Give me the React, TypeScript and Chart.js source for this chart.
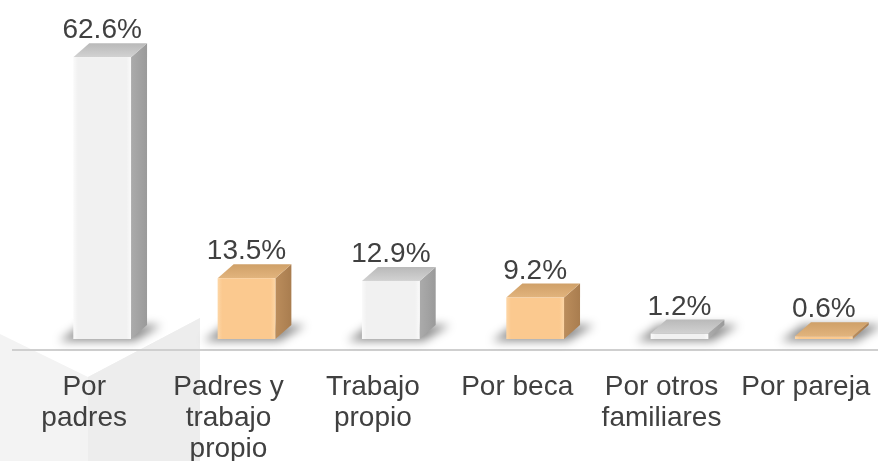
import React, { useEffect, useRef } from "react";
import { Chart, registerables } from "chart.js";

Chart.register(...registerables);

const categories: string[][] = [
  ["Por", "padres"],
  ["Padres y", "trabajo", "propio"],
  ["Trabajo", "propio"],
  ["Por beca"],
  ["Por otros", "familiares"],
  ["Por pareja"],
];
const values: number[] = [62.6, 13.5, 12.9, 9.2, 1.2, 0.6];
const valueLabels: string[] = ["62.6%", "13.5%", "12.9%", "9.2%", "1.2%", "0.6%"];

const FONT = "'Liberation Sans', Arial, Helvetica, sans-serif";
const TEXT = "#404040";

type Pal = { front: string; frontEdge: string; top1: string; top2: string; side1: string; side2: string };
const grayPal: Pal = {
  front: "#f1f1f1",
  frontEdge: "#fafafa",
  top1: "#d2d2d2",
  top2: "#b9b9b9",
  side1: "#ababab",
  side2: "#9a9a9a",
};
const orangePal: Pal = {
  front: "#fbc98f",
  frontEdge: "#fdd6a6",
  top1: "#e2b47d",
  top2: "#cfa068",
  side1: "#bb8d5c",
  side2: "#a97d4f",
};

const SHIFT = 18;
const DX = 16;
const DY = 14;

const bar3d = {
  id: "bar3d",
  beforeDraw(chart: any) {
    const ctx = chart.ctx;
    ctx.save();
    // faint background decoration at lower left
    ctx.fillStyle = "#f3f3f3";
    ctx.beginPath();
    ctx.moveTo(0, 334);
    ctx.lineTo(88, 377);
    ctx.lineTo(200, 318);
    ctx.lineTo(200, 461);
    ctx.lineTo(0, 461);
    ctx.closePath();
    ctx.fill();
    ctx.fillStyle = "#ededed";
    ctx.beginPath();
    ctx.moveTo(88, 377);
    ctx.lineTo(200, 318);
    ctx.lineTo(200, 461);
    ctx.lineTo(88, 461);
    ctx.closePath();
    ctx.fill();
    ctx.restore();
  },
  afterDatasetsDraw(chart: any) {
    const ctx = chart.ctx;
    const meta = chart.getDatasetMeta(0);
    const area = chart.chartArea;
    const yBase = chart.scales.y.getPixelForValue(0);
    ctx.save();
    // floor line
    ctx.strokeStyle = "#cfcfcf";
    ctx.lineWidth = 2;
    ctx.beginPath();
    ctx.moveTo(area.left, yBase + 11);
    ctx.lineTo(area.right, yBase + 11);
    ctx.stroke();

    meta.data.forEach((el: any, i: number) => {
      const pal = i % 2 === 0 ? grayPal : orangePal;
      const w = el.width;
      const cx = el.x + SHIFT;
      const L = cx - w / 2;
      const R = cx + w / 2;
      const T = el.y;
      const B = el.base;

      // shadow
      ctx.save();
      ctx.filter = "blur(5px)";
      ctx.fillStyle = "rgba(0,0,0,0.45)";
      ctx.beginPath();
      ctx.moveTo(L - 14, B + 2);
      ctx.lineTo(R + 4, B + 2);
      ctx.lineTo(R + DX + 14, B - DY);
      ctx.lineTo(L + DX - 8, B - DY);
      ctx.closePath();
      ctx.fill();
      ctx.restore();

      // side face
      let g = ctx.createLinearGradient(R, 0, R + DX, 0);
      g.addColorStop(0, pal.side1);
      g.addColorStop(1, pal.side2);
      ctx.fillStyle = g;
      ctx.beginPath();
      ctx.moveTo(R, T);
      ctx.lineTo(R + DX, T - DY);
      ctx.lineTo(R + DX, B - DY);
      ctx.lineTo(R, B);
      ctx.closePath();
      ctx.fill();

      // top face
      g = ctx.createLinearGradient(0, T, 0, T - DY);
      g.addColorStop(0, pal.top1);
      g.addColorStop(1, pal.top2);
      ctx.fillStyle = g;
      ctx.beginPath();
      ctx.moveTo(L, T);
      ctx.lineTo(R, T);
      ctx.lineTo(R + DX, T - DY);
      ctx.lineTo(L + DX, T - DY);
      ctx.closePath();
      ctx.fill();

      // front face
      g = ctx.createLinearGradient(L, 0, R, 0);
      g.addColorStop(0, pal.frontEdge);
      g.addColorStop(0.08, pal.front);
      g.addColorStop(0.92, pal.front);
      g.addColorStop(1, pal.frontEdge);
      ctx.fillStyle = g;
      ctx.fillRect(L, T, w, B - T);

      // value label
      ctx.fillStyle = TEXT;
      ctx.font = `28px ${FONT}`;
      ctx.textAlign = "center";
      ctx.textBaseline = "alphabetic";
      ctx.fillText(valueLabels[i], cx, T - DY - 5);
    });
    ctx.restore();
  },
};

export default function App() {
  const ref = useRef<HTMLCanvasElement>(null);
  useEffect(() => {
    if (!ref.current) return;
    const chart = new Chart(ref.current, {
      type: "bar",
      data: {
        labels: categories,
        datasets: [
          {
            data: values,
            backgroundColor: "rgba(0,0,0,0)",
            borderWidth: 0,
            categoryPercentage: 0.4,
            barPercentage: 1,
          },
        ],
      },
      options: {
        animation: false,
        responsive: false,
        devicePixelRatio: 1,
        layout: { padding: { left: 12, right: 0, top: 24, bottom: 0 } },
        plugins: { legend: { display: false }, tooltip: { enabled: false } },
        scales: {
          x: {
            grid: { display: false, drawTicks: false },
            border: { display: false },
            ticks: {
              color: TEXT,
              font: { family: FONT, size: 28, lineHeight: 31 / 28 },
              padding: 33,
              maxRotation: 0,
              autoSkip: false,
            },
            afterFit: (scale: any) => {
              scale.height = 122;
              scale.paddingLeft = 0;
              scale.paddingRight = 0;
            },
          },
          y: {
            display: false,
            min: 0,
            max: 70,
          },
        },
      },
      plugins: [bar3d],
    });
    return () => chart.destroy();
  }, []);
  return (
    <div style={{ position: "absolute", left: 0, top: 0, width: 878, height: 461, background: "#fff" }}>
      <canvas ref={ref} width={878} height={461} />
    </div>
  );
}
